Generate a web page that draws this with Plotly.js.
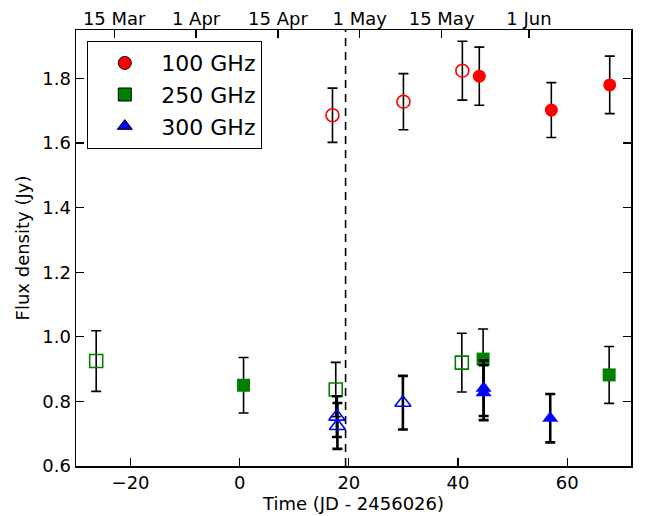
<!DOCTYPE html>
<html>
<head>
<meta charset="utf-8">
<script src="https://cdn.plot.ly/plotly-3.0.1.min.js"></script>
<style>html,body{margin:0;padding:0;background:#fff;}#chart{width:653px;height:516px;}</style>
</head>
<body>
<div id="chart"></div>
<script>
// ---- data (time in JD - 2456026, flux density in Jy) ----
const ghz100OpenX   = [17.0, 30.0, 40.8];
const ghz100OpenY   = [1.686, 1.728, 1.824];
const ghz100OpenErr = [0.084, 0.087, 0.091];
const ghz100FillX   = [43.9, 57.1, 67.8];
const ghz100FillY   = [1.807, 1.702, 1.780];
const ghz100FillErr = [0.090, 0.085, 0.089];

const ghz250OpenX   = [-26.3, 17.6, 40.7];
const ghz250OpenY   = [0.925, 0.837, 0.920];
const ghz250OpenErr = [0.094, 0.084, 0.091];
const ghz250FillX   = [0.7, 44.6, 67.7];
const ghz250FillY   = [0.850, 0.931, 0.882];
const ghz250FillErr = [0.086, 0.093, 0.088];

const ghz300OpenX   = [17.8, 17.9, 29.9];
const ghz300OpenY   = [0.753, 0.724, 0.796];
const ghz300OpenErr = [0.063, 0.071, 0.083];
const ghz300FillX   = [44.7, 44.7, 56.9];
const ghz300FillY   = [0.841, 0.827, 0.748];
const ghz300FillErr = [0.086, 0.085, 0.075];

const dashedLineX = 19.4;
const legendNames = ['100 GHz', '250 GHz', '300 GHz'];
const topTickVals = [-23, -8, 7, 22, 37, 53];
const topTickText = ['15 Mar', '1 Apr', '15 Apr', '1 May', '15 May', '1 Jun'];
const xRange = [-30, 71.7];
const yRange = [0.6, 1.95];

// ---- traces ----
const FONT = 'DejaVu Sans, sans-serif';
function errs(arr, thick) {
  return {type: 'data', array: arr, visible: true, color: 'black', thickness: thick, width: 5};
}
function tr(x, y, e, symbol, color, thick) {
  return {
    x: x, y: y, mode: 'markers', type: 'scatter', showlegend: false, hoverinfo: 'skip',
    marker: {symbol: symbol, color: color, size: symbol.indexOf('triangle') === 0 ? 14 : 13,
             line: {width: symbol.indexOf('open') > 0 ? 1.6 : 0, color: color}},
    error_y: errs(e, thick)
  };
}
const traces = [
  tr(ghz100OpenX, ghz100OpenY, ghz100OpenErr, 'circle-open', 'red', 1.6),
  tr(ghz100FillX, ghz100FillY, ghz100FillErr, 'circle', 'red', 1.6),
  tr(ghz250OpenX, ghz250OpenY, ghz250OpenErr, 'square-open', 'green', 1.6),
  tr(ghz250FillX, ghz250FillY, ghz250FillErr, 'square', 'green', 1.6),
  tr(ghz300OpenX, ghz300OpenY, ghz300OpenErr, 'triangle-up-open', 'blue', 2.6),
  tr(ghz300FillX, ghz300FillY, ghz300FillErr, 'triangle-up', 'blue', 2.6)
];
// legend-only entries
const legSymbols = ['circle', 'square', 'triangle-up'];
const legColors = ['red', 'green', 'blue'];
legendNames.forEach((n, i) => {
  traces.push({x: [null], y: [null], mode: 'markers', type: 'scatter', name: n, hoverinfo: 'skip',
    marker: {symbol: legSymbols[i], color: legColors[i], size: 13, line: {width: 1, color: 'black'}}});
});
// dummy trace to activate top axis
traces.push({x: [null], y: [null], xaxis: 'x2', mode: 'markers', showlegend: false, hoverinfo: 'skip'});

const axBase = {
  showgrid: false, zeroline: false, showline: true, linecolor: 'black', linewidth: 1.5,
  ticks: 'inside', ticklen: 8, tickwidth: 1.2, tickcolor: 'black',
  tickfont: {family: FONT, size: 18, color: 'black'}
};

const layout = {
  width: 653, height: 516,
  margin: {l: 76, r: 22, t: 30, b: 50},
  paper_bgcolor: 'white', plot_bgcolor: 'white',
  font: {family: FONT, color: 'black'},
  xaxis: Object.assign({}, axBase, {
    range: xRange, tickvals: [-20, 0, 20, 40, 60], mirror: true,
    title: {text: 'Time (JD - 2456026)', font: {family: FONT, size: 18, color: 'black'}, standoff: 4}
  }),
  xaxis2: Object.assign({}, axBase, {
    range: xRange, overlaying: 'x', side: 'top', anchor: 'y',
    tickvals: topTickVals, ticktext: topTickText, showline: false
  }),
  yaxis: Object.assign({}, axBase, {
    range: yRange, tickvals: [0.6, 0.8, 1.0, 1.2, 1.4, 1.6, 1.8], tickformat: '.1f', mirror: 'ticks',
    title: {text: 'Flux density (Jy)', font: {family: FONT, size: 18, color: 'black'}, standoff: 8}
  }),
  shapes: [{
    type: 'line', xref: 'x', yref: 'paper', x0: dashedLineX, x1: dashedLineX, y0: 0, y1: 1,
    line: {color: 'black', width: 1.6, dash: '8px,6px'}
  }],
  legend: {
    x: 0.02, y: 0.975, xanchor: 'left', yanchor: 'top',
    bgcolor: 'white', bordercolor: 'black', borderwidth: 1.2,
    font: {family: FONT, size: 22, color: 'black'},
    itemwidth: 63, tracegroupgap: 0
  }
};

Plotly.newPlot('chart', traces, layout, {staticPlot: true, displayModeBar: false});
</script>
</body>
</html>
